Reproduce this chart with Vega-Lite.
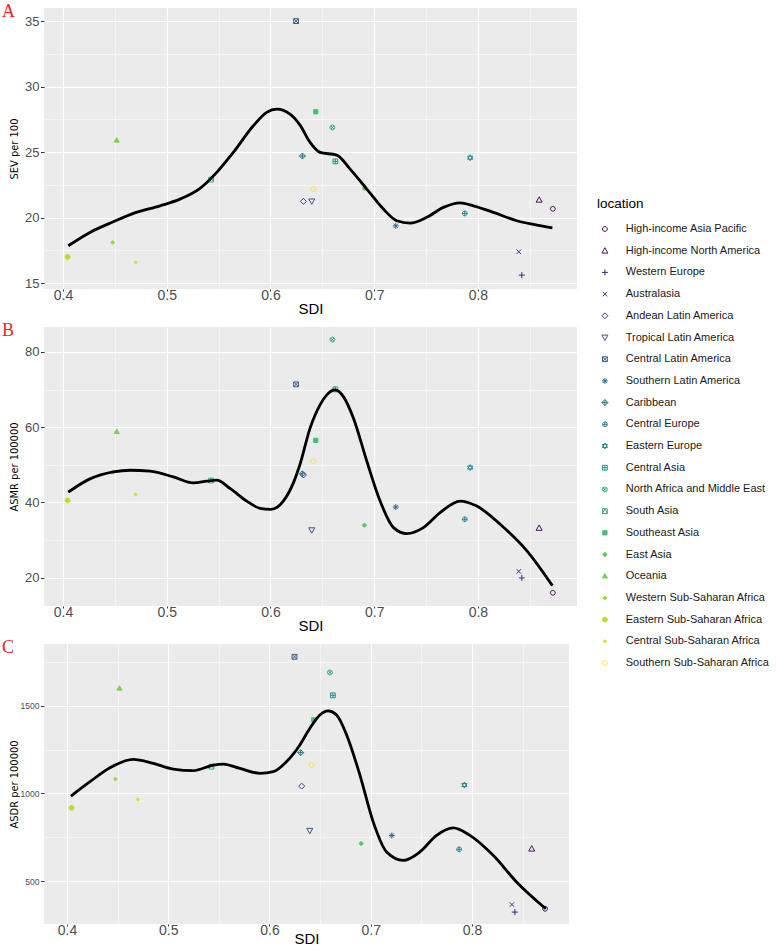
{
  "$schema": "https://vega.github.io/schema/vega-lite/v6.json",
  "padding": {"left": 2, "top": 3, "right": 2, "bottom": 2},
  "background": "white",
  "bounds": "flush",
  "spacing": 38,
  "config": {
    "view": {"fill": "#ebebeb", "stroke": null},
    "axis": {"domain": false, "gridColor": "white", "gridWidth": 1.1, "tickColor": "#333333", "tickWidth": 1, "tickSize": 3.5, "labelColor": "#4d4d4d", "labelFont": "Liberation Sans", "titleFont": "Liberation Sans", "titleColor": "black", "titleFontWeight": "normal"},
    "axisX": {"labelFontSize": 14, "labelPadding": -3, "titleFontSize": 15, "titlePadding": -1, "tickSize": 2},
    "axisY": {"labelFontSize": 13, "labelPadding": 1.5, "titleFont": "DejaVu Sans Condensed, Liberation Sans, sans-serif", "titleFontSize": 11, "titlePadding": 5},
    "legend": {"orient": "none", "legendX": 553, "legendY": 189, "padding": 0, "symbolSize": 36, "symbolStrokeWidth": 1, "labelFont": "Liberation Sans", "labelFontSize": 11, "labelColor": "#1a1a1a", "titleFont": "Liberation Sans", "titleFontSize": 13.5, "titleFontWeight": "normal", "titleColor": "black", "rowPadding": 9.7, "symbolOffset": 2.4, "labelOffset": 15.3, "titlePadding": 13},
    "title": {"anchor": "start", "frame": "bounds", "color": "#ec2a24", "font": "Liberation Serif", "fontSize": 18, "fontWeight": "normal", "offset": -25, "baseline": "top", "dy": -12, "dx": -6.5}
  },
  "datasets": {
    "points": [
      {"location": "High-income Asia Pacific", "sdi": 0.8722, "sev": 20.67, "asmr": 16.0, "asdr": 342},
      {"location": "High-income North America", "sdi": 0.859, "sev": 21.36, "asmr": 33.24, "asdr": 685},
      {"location": "Western Europe", "sdi": 0.8423, "sev": 15.61, "asmr": 19.95, "asdr": 323},
      {"location": "Australasia", "sdi": 0.8394, "sev": 17.39, "asmr": 21.7, "asdr": 366},
      {"location": "Andean Latin America", "sdi": 0.6318, "sev": 21.24, "asmr": 47.3, "asdr": 1042},
      {"location": "Tropical Latin America", "sdi": 0.6398, "sev": 21.24, "asmr": 32.63, "asdr": 787},
      {"location": "Central Latin America", "sdi": 0.6247, "sev": 35.0, "asmr": 71.37, "asdr": 1780},
      {"location": "Southern Latin America", "sdi": 0.7208, "sev": 19.37, "asmr": 38.78, "asdr": 760},
      {"location": "Caribbean", "sdi": 0.6308, "sev": 24.7, "asmr": 47.6, "asdr": 1233},
      {"location": "Central Europe", "sdi": 0.7873, "sev": 20.32, "asmr": 35.53, "asdr": 681},
      {"location": "Eastern Europe", "sdi": 0.7925, "sev": 24.57, "asmr": 49.27, "asdr": 1048},
      {"location": "Central Asia", "sdi": 0.6626, "sev": 24.29, "asmr": 70.04, "asdr": 1560},
      {"location": "North Africa and Middle East", "sdi": 0.6597, "sev": 26.88, "asmr": 83.25, "asdr": 1691},
      {"location": "South Asia", "sdi": 0.5427, "sev": 22.9, "asmr": 45.83, "asdr": 1153},
      {"location": "Southeast Asia", "sdi": 0.6437, "sev": 28.08, "asmr": 56.49, "asdr": 1420},
      {"location": "East Asia", "sdi": 0.6906, "sev": 22.23, "asmr": 33.95, "asdr": 714},
      {"location": "Oceania", "sdi": 0.4518, "sev": 25.9, "asmr": 58.8, "asdr": 1600},
      {"location": "Western Sub-Saharan Africa", "sdi": 0.4479, "sev": 18.1, "asmr": 48.0, "asdr": 1082},
      {"location": "Eastern Sub-Saharan Africa", "sdi": 0.4045, "sev": 17.0, "asmr": 40.55, "asdr": 918},
      {"location": "Central Sub-Saharan Africa", "sdi": 0.47, "sev": 16.58, "asmr": 42.13, "asdr": 966},
      {"location": "Southern Sub-Saharan Africa", "sdi": 0.6415, "sev": 22.18, "asmr": 50.94, "asdr": 1162}
    ],
    "curveA": [
      {"sdi": 0.4051, "v": 17.85}, {"sdi": 0.426, "v": 18.87}, {"sdi": 0.4485, "v": 19.68}, {"sdi": 0.4678, "v": 20.32}, {"sdi": 0.4935, "v": 20.9}, {"sdi": 0.5128, "v": 21.41}, {"sdi": 0.5321, "v": 22.23}, {"sdi": 0.5482, "v": 23.45}, {"sdi": 0.5642, "v": 24.98}, {"sdi": 0.5835, "v": 27.01}, {"sdi": 0.5964, "v": 28.03}, {"sdi": 0.6061, "v": 28.28}, {"sdi": 0.6189, "v": 27.9}, {"sdi": 0.6285, "v": 27.06}, {"sdi": 0.6382, "v": 25.74}, {"sdi": 0.6478, "v": 24.98}, {"sdi": 0.6639, "v": 24.77}, {"sdi": 0.6768, "v": 23.7}, {"sdi": 0.6929, "v": 22.18}, {"sdi": 0.7089, "v": 20.65}, {"sdi": 0.7218, "v": 19.76}, {"sdi": 0.7346, "v": 19.58}, {"sdi": 0.7507, "v": 20.02}, {"sdi": 0.7667, "v": 20.78}, {"sdi": 0.7828, "v": 21.13}, {"sdi": 0.7957, "v": 20.9}, {"sdi": 0.8149, "v": 20.4}, {"sdi": 0.8375, "v": 19.76}, {"sdi": 0.8535, "v": 19.48}, {"sdi": 0.8718, "v": 19.22}
    ],
    "curveB": [
      {"sdi": 0.4051, "v": 42.75}, {"sdi": 0.426, "v": 46.26}, {"sdi": 0.4485, "v": 48.11}, {"sdi": 0.4646, "v": 48.56}, {"sdi": 0.4839, "v": 48.3}, {"sdi": 0.5064, "v": 46.79}, {"sdi": 0.5257, "v": 45.2}, {"sdi": 0.5386, "v": 45.65}, {"sdi": 0.5482, "v": 45.92}, {"sdi": 0.561, "v": 43.73}, {"sdi": 0.5771, "v": 40.37}, {"sdi": 0.59, "v": 38.44}, {"sdi": 0.6003, "v": 38.18}, {"sdi": 0.6124, "v": 40.37}, {"sdi": 0.6221, "v": 45.2}, {"sdi": 0.6285, "v": 50.15}, {"sdi": 0.6382, "v": 59.74}, {"sdi": 0.6478, "v": 65.92}, {"sdi": 0.6543, "v": 68.56}, {"sdi": 0.6623, "v": 69.88}, {"sdi": 0.6703, "v": 68.11}, {"sdi": 0.68, "v": 62.38}, {"sdi": 0.6929, "v": 50.94}, {"sdi": 0.7057, "v": 40.37}, {"sdi": 0.7186, "v": 33.32}, {"sdi": 0.7314, "v": 31.73}, {"sdi": 0.7474, "v": 33.32}, {"sdi": 0.7635, "v": 37.28}, {"sdi": 0.7828, "v": 40.37}, {"sdi": 0.7989, "v": 39.05}, {"sdi": 0.8214, "v": 34.21}, {"sdi": 0.8472, "v": 27.16}, {"sdi": 0.8718, "v": 17.91}
    ],
    "curveC": [
      {"sdi": 0.4039, "v": 985}, {"sdi": 0.4227, "v": 1067}, {"sdi": 0.4424, "v": 1147}, {"sdi": 0.4654, "v": 1195}, {"sdi": 0.4852, "v": 1172}, {"sdi": 0.5049, "v": 1139}, {"sdi": 0.5247, "v": 1130}, {"sdi": 0.5444, "v": 1162}, {"sdi": 0.5543, "v": 1168}, {"sdi": 0.5708, "v": 1143}, {"sdi": 0.5905, "v": 1115}, {"sdi": 0.6037, "v": 1124}, {"sdi": 0.6169, "v": 1182}, {"sdi": 0.63, "v": 1277}, {"sdi": 0.6399, "v": 1372}, {"sdi": 0.6498, "v": 1448}, {"sdi": 0.6579, "v": 1471}, {"sdi": 0.6663, "v": 1448}, {"sdi": 0.6762, "v": 1334}, {"sdi": 0.6893, "v": 1105}, {"sdi": 0.7024, "v": 838}, {"sdi": 0.7157, "v": 666}, {"sdi": 0.7321, "v": 618}, {"sdi": 0.7485, "v": 666}, {"sdi": 0.765, "v": 761}, {"sdi": 0.7814, "v": 804}, {"sdi": 0.7979, "v": 761}, {"sdi": 0.8209, "v": 647}, {"sdi": 0.844, "v": 495}, {"sdi": 0.8729, "v": 342}
    ]
  },
  "vconcat": [
    {
      "width": 533, "height": 281,
      "title": {"text": "A"},
      "resolve": {"scale": {"x": "independent", "y": "independent"}, "axis": {"x": "independent", "y": "independent"}},
      "layer": [
        {
          "data": {"name": "points"},
          "mark": {"type": "point", "filled": true, "opacity": 1, "size": 36, "strokeWidth": 1},
          "encoding": {
            "x": {"field": "sdi", "type": "quantitative", "scale": {"domain": [0.3817, 0.8955], "nice": false, "zero": false}, "axis": {"orient": "bottom", "title": "SDI", "values": [0.4, 0.5, 0.6, 0.7, 0.8], "format": ".1f"}},
            "y": {"field": "sev", "type": "quantitative", "scale": {"domain": [14.55, 36.0], "nice": false, "zero": false}, "axis": {"orient": "left", "title": "SEV per 100", "values": [15, 20, 25, 30, 35]}},
            "stroke": {"field": "location", "type": "nominal", "legend": {"title": "location"}, "scale": {"domain": ["High-income Asia Pacific","High-income North America","Western Europe","Australasia","Andean Latin America","Tropical Latin America","Central Latin America","Southern Latin America","Caribbean","Central Europe","Eastern Europe","Central Asia","North Africa and Middle East","South Asia","Southeast Asia","East Asia","Oceania","Western Sub-Saharan Africa","Eastern Sub-Saharan Africa","Central Sub-Saharan Africa","Southern Sub-Saharan Africa"], "range": ["#440154","#471365","#482475","#463480","#414487","#3B528B","#355F8D","#2F6C8E","#2A788E","#25848E","#21908C","#1E9C89","#22A884","#2FB47C","#43BF71","#5DC863","#7AD151","#9AD93C","#BBDF27","#DDE318","#FDE725"]}},
            "fill": {"field": "location", "type": "nominal", "legend": {"title": "location"}, "scale": {"domain": ["High-income Asia Pacific","High-income North America","Western Europe","Australasia","Andean Latin America","Tropical Latin America","Central Latin America","Southern Latin America","Caribbean","Central Europe","Eastern Europe","Central Asia","North Africa and Middle East","South Asia","Southeast Asia","East Asia","Oceania","Western Sub-Saharan Africa","Eastern Sub-Saharan Africa","Central Sub-Saharan Africa","Southern Sub-Saharan Africa"], "range": ["transparent","transparent","transparent","transparent","transparent","transparent","transparent","transparent","transparent","transparent","transparent","transparent","transparent","transparent","#43BF71","#5DC863","#7AD151","#9AD93C","#BBDF27","#DDE318","transparent"]}},
            "shape": {"field": "location", "type": "nominal", "legend": {"title": "location"}, "scale": {"domain": ["High-income Asia Pacific","High-income North America","Western Europe","Australasia","Andean Latin America","Tropical Latin America","Central Latin America","Southern Latin America","Caribbean","Central Europe","Eastern Europe","Central Asia","North Africa and Middle East","South Asia","Southeast Asia","East Asia","Oceania","Western Sub-Saharan Africa","Eastern Sub-Saharan Africa","Central Sub-Saharan Africa","Southern Sub-Saharan Africa"], "range": ["M0.8,0A0.8,0.8 0 1,1 -0.8,0A0.8,0.8 0 1,1 0.8,0Z","M0,-1L1,0.8L-1,0.8Z","M-1,0L1,0M0,-1L0,1","M-0.75,-0.75L0.75,0.75M-0.75,0.75L0.75,-0.75","M0,-1L1,0L0,1L-1,0Z","M0,1L1,-0.8L-1,-0.8Z","M-0.8,-0.8L0.8,-0.8L0.8,0.8L-0.8,0.8ZM-0.8,-0.8L0.8,0.8M-0.8,0.8L0.8,-0.8","M-1,0L1,0M0,-1L0,1M-0.7,-0.7L0.7,0.7M-0.7,0.7L0.7,-0.7","M0,-1L1,0L0,1L-1,0ZM-1,0L1,0M0,-1L0,1","M0.8,0A0.8,0.8 0 1,1 -0.8,0A0.8,0.8 0 1,1 0.8,0ZM-0.8,0L0.8,0M0,-0.8L0,0.8","M0,-1L0.87,0.5L-0.87,0.5ZM0,1L0.87,-0.5L-0.87,-0.5Z","M-0.8,-0.8L0.8,-0.8L0.8,0.8L-0.8,0.8ZM-0.8,0L0.8,0M0,-0.8L0,0.8","M0.8,0A0.8,0.8 0 1,1 -0.8,0A0.8,0.8 0 1,1 0.8,0ZM-0.57,-0.57L0.57,0.57M-0.57,0.57L0.57,-0.57","M-0.8,-0.8L0.8,-0.8L0.8,0.8L-0.8,0.8ZM-0.8,0.8L0,-0.8L0.8,0.8","M-0.7,-0.7L0.7,-0.7L0.7,0.7L-0.7,0.7Z","M0.6,0A0.6,0.6 0 1,1 -0.6,0A0.6,0.6 0 1,1 0.6,0Z","M0,-0.85L0.85,0.6L-0.85,0.6Z","M0,-0.65L0.65,0L0,0.65L-0.65,0Z","M0.8,0A0.8,0.8 0 1,1 -0.8,0A0.8,0.8 0 1,1 0.8,0Z","M0.45,0A0.45,0.45 0 1,1 -0.45,0A0.45,0.45 0 1,1 0.45,0Z","M0.8,0A0.8,0.8 0 1,1 -0.8,0A0.8,0.8 0 1,1 0.8,0Z"]}}
          }
        },
        {
          "data": {"name": "curveA"},
          "mark": {"type": "line", "color": "black", "strokeWidth": 2.8, "interpolate": "monotone"},
          "encoding": {
            "x": {"field": "sdi", "type": "quantitative", "scale": {"domain": [0.3817, 0.8955], "nice": false, "zero": false}, "axis": {"orient": "top", "title": null, "labels": false, "ticks": false, "domain": false, "grid": true, "gridWidth": 0.5, "values": [0.45, 0.55, 0.65, 0.75, 0.85]}},
            "y": {"field": "v", "type": "quantitative", "scale": {"domain": [14.55, 36.0], "nice": false, "zero": false}, "axis": {"orient": "right", "title": null, "labels": false, "ticks": false, "domain": false, "grid": true, "gridWidth": 0.5, "values": [17.5, 22.5, 27.5, 32.5]}}
          }
        }
      ]
    },
    {
      "width": 533, "height": 279,
      "title": {"text": "B"},
      "resolve": {"scale": {"x": "independent", "y": "independent"}, "axis": {"x": "independent", "y": "independent"}},
      "layer": [
        {
          "data": {"name": "points"},
          "mark": {"type": "point", "filled": true, "opacity": 1, "size": 36, "strokeWidth": 1},
          "encoding": {
            "x": {"field": "sdi", "type": "quantitative", "scale": {"domain": [0.3817, 0.8955], "nice": false, "zero": false}, "axis": {"orient": "bottom", "title": "SDI", "values": [0.4, 0.5, 0.6, 0.7, 0.8], "format": ".1f"}},
            "y": {"field": "asmr", "type": "quantitative", "scale": {"domain": [12.5, 86.6], "nice": false, "zero": false}, "axis": {"orient": "left", "title": "ASMR per 100000", "values": [20, 40, 60, 80]}},
            "stroke": {"field": "location", "type": "nominal", "legend": {"title": "location"}, "scale": {"domain": ["High-income Asia Pacific","High-income North America","Western Europe","Australasia","Andean Latin America","Tropical Latin America","Central Latin America","Southern Latin America","Caribbean","Central Europe","Eastern Europe","Central Asia","North Africa and Middle East","South Asia","Southeast Asia","East Asia","Oceania","Western Sub-Saharan Africa","Eastern Sub-Saharan Africa","Central Sub-Saharan Africa","Southern Sub-Saharan Africa"], "range": ["#440154","#471365","#482475","#463480","#414487","#3B528B","#355F8D","#2F6C8E","#2A788E","#25848E","#21908C","#1E9C89","#22A884","#2FB47C","#43BF71","#5DC863","#7AD151","#9AD93C","#BBDF27","#DDE318","#FDE725"]}},
            "fill": {"field": "location", "type": "nominal", "legend": {"title": "location"}, "scale": {"domain": ["High-income Asia Pacific","High-income North America","Western Europe","Australasia","Andean Latin America","Tropical Latin America","Central Latin America","Southern Latin America","Caribbean","Central Europe","Eastern Europe","Central Asia","North Africa and Middle East","South Asia","Southeast Asia","East Asia","Oceania","Western Sub-Saharan Africa","Eastern Sub-Saharan Africa","Central Sub-Saharan Africa","Southern Sub-Saharan Africa"], "range": ["transparent","transparent","transparent","transparent","transparent","transparent","transparent","transparent","transparent","transparent","transparent","transparent","transparent","transparent","#43BF71","#5DC863","#7AD151","#9AD93C","#BBDF27","#DDE318","transparent"]}},
            "shape": {"field": "location", "type": "nominal", "legend": {"title": "location"}, "scale": {"domain": ["High-income Asia Pacific","High-income North America","Western Europe","Australasia","Andean Latin America","Tropical Latin America","Central Latin America","Southern Latin America","Caribbean","Central Europe","Eastern Europe","Central Asia","North Africa and Middle East","South Asia","Southeast Asia","East Asia","Oceania","Western Sub-Saharan Africa","Eastern Sub-Saharan Africa","Central Sub-Saharan Africa","Southern Sub-Saharan Africa"], "range": ["M0.8,0A0.8,0.8 0 1,1 -0.8,0A0.8,0.8 0 1,1 0.8,0Z","M0,-1L1,0.8L-1,0.8Z","M-1,0L1,0M0,-1L0,1","M-0.75,-0.75L0.75,0.75M-0.75,0.75L0.75,-0.75","M0,-1L1,0L0,1L-1,0Z","M0,1L1,-0.8L-1,-0.8Z","M-0.8,-0.8L0.8,-0.8L0.8,0.8L-0.8,0.8ZM-0.8,-0.8L0.8,0.8M-0.8,0.8L0.8,-0.8","M-1,0L1,0M0,-1L0,1M-0.7,-0.7L0.7,0.7M-0.7,0.7L0.7,-0.7","M0,-1L1,0L0,1L-1,0ZM-1,0L1,0M0,-1L0,1","M0.8,0A0.8,0.8 0 1,1 -0.8,0A0.8,0.8 0 1,1 0.8,0ZM-0.8,0L0.8,0M0,-0.8L0,0.8","M0,-1L0.87,0.5L-0.87,0.5ZM0,1L0.87,-0.5L-0.87,-0.5Z","M-0.8,-0.8L0.8,-0.8L0.8,0.8L-0.8,0.8ZM-0.8,0L0.8,0M0,-0.8L0,0.8","M0.8,0A0.8,0.8 0 1,1 -0.8,0A0.8,0.8 0 1,1 0.8,0ZM-0.57,-0.57L0.57,0.57M-0.57,0.57L0.57,-0.57","M-0.8,-0.8L0.8,-0.8L0.8,0.8L-0.8,0.8ZM-0.8,0.8L0,-0.8L0.8,0.8","M-0.7,-0.7L0.7,-0.7L0.7,0.7L-0.7,0.7Z","M0.6,0A0.6,0.6 0 1,1 -0.6,0A0.6,0.6 0 1,1 0.6,0Z","M0,-0.85L0.85,0.6L-0.85,0.6Z","M0,-0.65L0.65,0L0,0.65L-0.65,0Z","M0.8,0A0.8,0.8 0 1,1 -0.8,0A0.8,0.8 0 1,1 0.8,0Z","M0.45,0A0.45,0.45 0 1,1 -0.45,0A0.45,0.45 0 1,1 0.45,0Z","M0.8,0A0.8,0.8 0 1,1 -0.8,0A0.8,0.8 0 1,1 0.8,0Z"]}}
          }
        },
        {
          "data": {"name": "curveB"},
          "mark": {"type": "line", "color": "black", "strokeWidth": 2.8, "interpolate": "monotone"},
          "encoding": {
            "x": {"field": "sdi", "type": "quantitative", "scale": {"domain": [0.3817, 0.8955], "nice": false, "zero": false}, "axis": {"orient": "top", "title": null, "labels": false, "ticks": false, "domain": false, "grid": true, "gridWidth": 0.5, "values": [0.45, 0.55, 0.65, 0.75, 0.85]}},
            "y": {"field": "v", "type": "quantitative", "scale": {"domain": [12.5, 86.6], "nice": false, "zero": false}, "axis": {"orient": "right", "title": null, "labels": false, "ticks": false, "domain": false, "grid": true, "gridWidth": 0.5, "values": [30, 50, 70]}}
          }
        }
      ]
    },
    {
      "width": 525, "height": 280,
      "title": {"text": "C"},
      "resolve": {"scale": {"x": "independent", "y": "independent"}, "axis": {"x": "independent", "y": "independent"}},
      "layer": [
        {
          "data": {"name": "points"},
          "mark": {"type": "point", "filled": true, "opacity": 1, "size": 36, "strokeWidth": 1},
          "encoding": {
            "x": {"field": "sdi", "type": "quantitative", "scale": {"domain": [0.3773, 0.8958], "nice": false, "zero": false}, "axis": {"orient": "bottom", "title": "SDI", "values": [0.4, 0.5, 0.6, 0.7, 0.8], "format": ".1f", "titlePadding": -6}},
            "y": {"field": "asdr", "type": "quantitative", "scale": {"domain": [255, 1853], "nice": false, "zero": false}, "axis": {"orient": "left", "title": "ASDR per 100000", "values": [500, 1000, 1500], "format": "d", "labelFontSize": 8.5, "titlePadding": 0.5}},
            "stroke": {"field": "location", "type": "nominal", "legend": {"title": "location"}, "scale": {"domain": ["High-income Asia Pacific","High-income North America","Western Europe","Australasia","Andean Latin America","Tropical Latin America","Central Latin America","Southern Latin America","Caribbean","Central Europe","Eastern Europe","Central Asia","North Africa and Middle East","South Asia","Southeast Asia","East Asia","Oceania","Western Sub-Saharan Africa","Eastern Sub-Saharan Africa","Central Sub-Saharan Africa","Southern Sub-Saharan Africa"], "range": ["#440154","#471365","#482475","#463480","#414487","#3B528B","#355F8D","#2F6C8E","#2A788E","#25848E","#21908C","#1E9C89","#22A884","#2FB47C","#43BF71","#5DC863","#7AD151","#9AD93C","#BBDF27","#DDE318","#FDE725"]}},
            "fill": {"field": "location", "type": "nominal", "legend": {"title": "location"}, "scale": {"domain": ["High-income Asia Pacific","High-income North America","Western Europe","Australasia","Andean Latin America","Tropical Latin America","Central Latin America","Southern Latin America","Caribbean","Central Europe","Eastern Europe","Central Asia","North Africa and Middle East","South Asia","Southeast Asia","East Asia","Oceania","Western Sub-Saharan Africa","Eastern Sub-Saharan Africa","Central Sub-Saharan Africa","Southern Sub-Saharan Africa"], "range": ["transparent","transparent","transparent","transparent","transparent","transparent","transparent","transparent","transparent","transparent","transparent","transparent","transparent","transparent","#43BF71","#5DC863","#7AD151","#9AD93C","#BBDF27","#DDE318","transparent"]}},
            "shape": {"field": "location", "type": "nominal", "legend": {"title": "location"}, "scale": {"domain": ["High-income Asia Pacific","High-income North America","Western Europe","Australasia","Andean Latin America","Tropical Latin America","Central Latin America","Southern Latin America","Caribbean","Central Europe","Eastern Europe","Central Asia","North Africa and Middle East","South Asia","Southeast Asia","East Asia","Oceania","Western Sub-Saharan Africa","Eastern Sub-Saharan Africa","Central Sub-Saharan Africa","Southern Sub-Saharan Africa"], "range": ["M0.8,0A0.8,0.8 0 1,1 -0.8,0A0.8,0.8 0 1,1 0.8,0Z","M0,-1L1,0.8L-1,0.8Z","M-1,0L1,0M0,-1L0,1","M-0.75,-0.75L0.75,0.75M-0.75,0.75L0.75,-0.75","M0,-1L1,0L0,1L-1,0Z","M0,1L1,-0.8L-1,-0.8Z","M-0.8,-0.8L0.8,-0.8L0.8,0.8L-0.8,0.8ZM-0.8,-0.8L0.8,0.8M-0.8,0.8L0.8,-0.8","M-1,0L1,0M0,-1L0,1M-0.7,-0.7L0.7,0.7M-0.7,0.7L0.7,-0.7","M0,-1L1,0L0,1L-1,0ZM-1,0L1,0M0,-1L0,1","M0.8,0A0.8,0.8 0 1,1 -0.8,0A0.8,0.8 0 1,1 0.8,0ZM-0.8,0L0.8,0M0,-0.8L0,0.8","M0,-1L0.87,0.5L-0.87,0.5ZM0,1L0.87,-0.5L-0.87,-0.5Z","M-0.8,-0.8L0.8,-0.8L0.8,0.8L-0.8,0.8ZM-0.8,0L0.8,0M0,-0.8L0,0.8","M0.8,0A0.8,0.8 0 1,1 -0.8,0A0.8,0.8 0 1,1 0.8,0ZM-0.57,-0.57L0.57,0.57M-0.57,0.57L0.57,-0.57","M-0.8,-0.8L0.8,-0.8L0.8,0.8L-0.8,0.8ZM-0.8,0.8L0,-0.8L0.8,0.8","M-0.7,-0.7L0.7,-0.7L0.7,0.7L-0.7,0.7Z","M0.6,0A0.6,0.6 0 1,1 -0.6,0A0.6,0.6 0 1,1 0.6,0Z","M0,-0.85L0.85,0.6L-0.85,0.6Z","M0,-0.65L0.65,0L0,0.65L-0.65,0Z","M0.8,0A0.8,0.8 0 1,1 -0.8,0A0.8,0.8 0 1,1 0.8,0Z","M0.45,0A0.45,0.45 0 1,1 -0.45,0A0.45,0.45 0 1,1 0.45,0Z","M0.8,0A0.8,0.8 0 1,1 -0.8,0A0.8,0.8 0 1,1 0.8,0Z"]}}
          }
        },
        {
          "data": {"name": "curveC"},
          "mark": {"type": "line", "color": "black", "strokeWidth": 2.8, "interpolate": "monotone"},
          "encoding": {
            "x": {"field": "sdi", "type": "quantitative", "scale": {"domain": [0.3773, 0.8958], "nice": false, "zero": false}, "axis": {"orient": "top", "title": null, "labels": false, "ticks": false, "domain": false, "grid": true, "gridWidth": 0.5, "values": [0.45, 0.55, 0.65, 0.75, 0.85]}},
            "y": {"field": "v", "type": "quantitative", "scale": {"domain": [255, 1853], "nice": false, "zero": false}, "axis": {"orient": "right", "title": null, "labels": false, "ticks": false, "domain": false, "grid": true, "gridWidth": 0.5, "values": [750, 1250, 1750]}}
          }
        }
      ]
    }
  ]
}
